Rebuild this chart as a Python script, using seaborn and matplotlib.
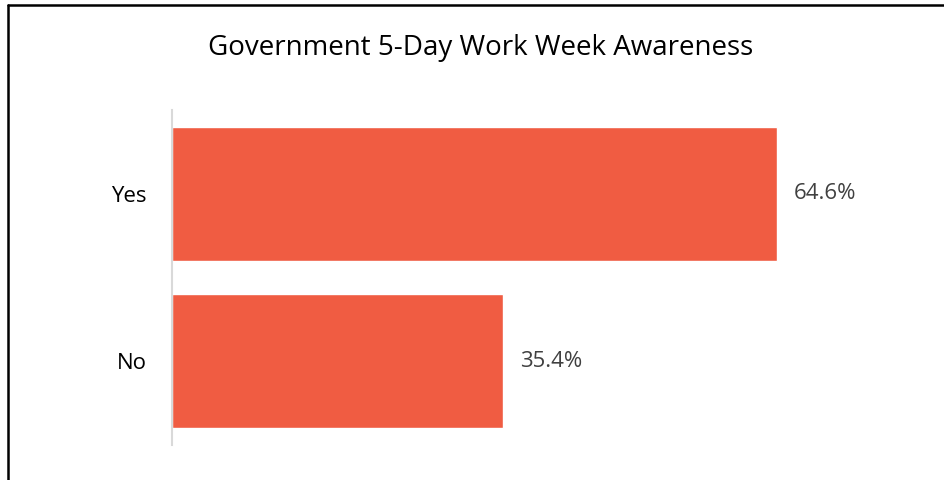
import matplotlib
matplotlib.use("Agg")
import matplotlib.pyplot as plt
import seaborn as sns
import pandas as pd
from matplotlib.lines import Line2D

categories = ["Yes", "No"]
values = [64.6, 35.4]
value_labels = ["64.6%", "35.4%"]
title = "Government 5-Day Work Week Awareness"

sns.set_style("white")
plt.rcParams["font.family"] = ["Open Sans", "DejaVu Sans"]

df = pd.DataFrame({"answer": categories, "pct": values})

fig = plt.figure(figsize=(9.45, 4.8), dpi=100)
ax = fig.add_axes([172/945, 1-445/480, (921-172)/945, (445-110)/480])

sns.barplot(data=df, x="pct", y="answer", color="#F05C42", width=0.8,
            saturation=1, ax=ax, orient="h")

ax.set_xlim(0, 80)
ax.set_ylim(1.5, -0.5)
ax.set_xlabel("")
ax.set_ylabel("")
ax.set_xticks([])
for s in ["top", "right", "bottom"]:
    ax.spines[s].set_visible(False)
ax.spines["left"].set_color("#d9d9d9")
ax.spines["left"].set_linewidth(1.5)
ax.tick_params(axis="y", length=0, pad=18, labelsize=16, labelcolor="black")

for c in ax.containers:
    ax.bar_label(c, labels=value_labels, padding=12, fontsize=16, color="#404040")

fig.text(481/945, 1-48/480, title, ha="center", va="center", fontsize=20, color="black")

# outer frame
fig.add_artist(Line2D([8/945, 1], [1-5/480, 1-5/480], transform=fig.transFigure,
                      color="black", linewidth=1.8))
fig.add_artist(Line2D([8.5/945, 8.5/945], [0, 1-5/480], transform=fig.transFigure,
                      color="black", linewidth=1.8))

fig.savefig("out.png", dpi=100)
